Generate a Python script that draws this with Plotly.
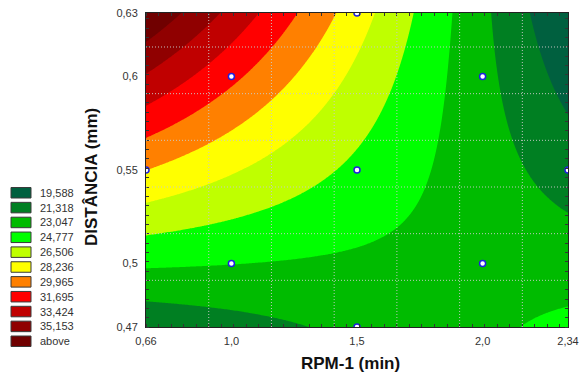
import numpy as np
import plotly.graph_objects as go

rpm = [1.0, 2.0, 1.0, 2.0, 0.66, 2.34, 1.5, 1.5, 1.5]
dist = [0.5024, 0.5024, 0.5976, 0.5976, 0.55, 0.55, 0.47, 0.63, 0.55]
resp = [23.09, 22.46, 30.37, 21.84, 28.25, 20.55, 21.71, 27.31, 24.40]

levels = [19.588, 21.318, 23.047, 24.777, 26.506, 28.236, 29.965, 31.695, 33.424, 35.153]
level_labels = ["19,588", "21,318", "23,047", "24,777", "26,506", "28,236",
                "29,965", "31,695", "33,424", "35,153", "above"]
level_colors = ["#00603f", "#007f22", "#00bb00", "#00ff00", "#bfff00", "#ffff00",
                "#ff8000", "#ff0000", "#c00000", "#900000", "#700000"]

x_tickvals = [0.66, 1.0, 1.5, 2.0, 2.34]
x_ticktext = ["0,66", "1,0", "1,5", "2,0", "2,34"]
y_tickvals = [0.47, 0.5024, 0.55, 0.5976, 0.63]
y_ticktext = ["0,47", "0,5", "0,55", "0,6", "0,63"]

x_title = "RPM-1 (min)"
y_title = "DISTÂNCIA (mm)"

# ---- quadratic response surface fitted to the design points ----
X = np.array(rpm)
Y = np.array(dist)
Z = np.array(resp)
A = np.column_stack([np.ones_like(X), X, Y, X**2, Y**2, X * Y])
coef, *_ = np.linalg.lstsq(A, Z, rcond=None)

xmin, xmax = min(x_tickvals), max(x_tickvals)
ymin, ymax = min(y_tickvals), max(y_tickvals)
gx = np.linspace(xmin, xmax, 281)
gy = np.linspace(ymin, ymax, 281)
GX, GY = np.meshgrid(gx, gy)
GZ = (coef[0] + coef[1] * GX + coef[2] * GY + coef[3] * GX**2
      + coef[4] * GY**2 + coef[5] * GX * GY)

# stepped colorscale: band k -> colour k
n = len(level_colors)
cs = []
for k, c in enumerate(level_colors):
    lo = max(0.0, (k - 0.5) / (n - 1))
    hi = min(1.0, (k + 0.5) / (n - 1))
    cs.append([lo, c])
    cs.append([hi, c])

step = (levels[-1] - levels[0]) / (len(levels) - 1)

fig = go.Figure()
fig.add_trace(go.Contour(
    x=gx, y=gy, z=GZ,
    autocontour=False,
    contours=dict(start=levels[0], end=levels[-1], size=step,
                  coloring="fill", showlines=False),
    line=dict(width=0),
    colorscale=cs,
    showscale=False,
    hoverinfo="skip",
))
fig.add_trace(go.Scatter(
    x=rpm, y=dist, mode="markers",
    marker=dict(size=6, color="white", line=dict(color="#1f1fe0", width=1.5)),
    showlegend=False, hoverinfo="skip",
))

# dotted grid drawn on top of the surface (Statistica style)
grid_dx = 0.2497
grid_dy = 0.02378
shapes = []
gxv = xmin + grid_dx
while gxv < xmax - 1e-6:
    shapes.append(dict(type="line", xref="x", yref="paper", x0=gxv, x1=gxv, y0=0, y1=1,
                       line=dict(color="rgba(200,200,200,0.95)", width=1, dash="1px,2px"),
                       layer="above"))
    gxv += grid_dx
gyv = ymin + grid_dy
while gyv < ymax - 1e-6:
    shapes.append(dict(type="line", xref="paper", yref="y", x0=0, x1=1, y0=gyv, y1=gyv,
                       line=dict(color="rgba(200,200,200,0.95)", width=1, dash="1px,2px"),
                       layer="above"))
    gyv += grid_dy

# legend swatches (left side)
L, R, T, B = 146, 568, 13, 327
W, H = R - L, B - T
def px(xp):
    return (xp - L) / W
def py(yp):
    return (B - yp) / H

annotations = []
for k, (lab, col) in enumerate(zip(level_labels, level_colors)):
    top = 187.5 + 14.85 * k
    bot = top + 10.5
    shapes.append(dict(type="rect", xref="paper", yref="paper",
                       x0=px(11), x1=px(31), y0=py(bot), y1=py(top),
                       fillcolor=col, line=dict(color="#3a3a3a", width=1), layer="above"))
    annotations.append(dict(xref="paper", yref="paper", x=px(38), y=py((top + bot) / 2),
                            text=lab, showarrow=False, xanchor="left", yanchor="middle",
                            font=dict(size=11, color="#333333")))

annotations.append(dict(xref="paper", yref="paper", x=px(350), y=py(363),
                        text="<b>" + x_title + "</b>",
                        showarrow=False, xanchor="center", yanchor="middle",
                        font=dict(size=17, color="#111111", family="Liberation Sans")))
annotations.append(dict(xref="paper", yref="paper", x=px(91), y=py(177),
                        text="<b>" + y_title + "</b>",
                        showarrow=False, xanchor="center", yanchor="middle", textangle=-90,
                        font=dict(size=17, color="#111111", family="Liberation Sans")))

axis_common = dict(showgrid=False, zeroline=False, showline=True, linecolor="#222222",
                   linewidth=1, mirror="ticks", ticks="", automargin=False,
                   tickfont=dict(size=11, color="#333333"))

fig.update_layout(
    template="none",
    width=586, height=382,
    margin=dict(l=L, r=586 - R, t=T, b=382 - B, pad=0, autoexpand=False),
    paper_bgcolor="white", plot_bgcolor="white",
    font=dict(family="Liberation Sans", size=11, color="#333333"),
    showlegend=False,
    xaxis=dict(range=[xmin, xmax], tickmode="array", tickvals=x_tickvals, ticktext=x_ticktext,
               minor=dict(tickmode="linear", tick0=xmin, dtick=grid_dx / 5, ticks="inside",
                          ticklen=3, tickcolor="#333333", showgrid=False),
               ticklabelstandoff=4,
               **axis_common),
    yaxis=dict(range=[ymin, ymax], tickmode="array", tickvals=y_tickvals, ticktext=y_ticktext,
               minor=dict(tickmode="linear", tick0=ymin, dtick=grid_dy / 5, ticks="inside",
                          ticklen=3, tickcolor="#333333", showgrid=False),
               ticklabelstandoff=5,
               **axis_common),
    shapes=shapes,
    annotations=annotations,
)

fig.write_html("out.html")
